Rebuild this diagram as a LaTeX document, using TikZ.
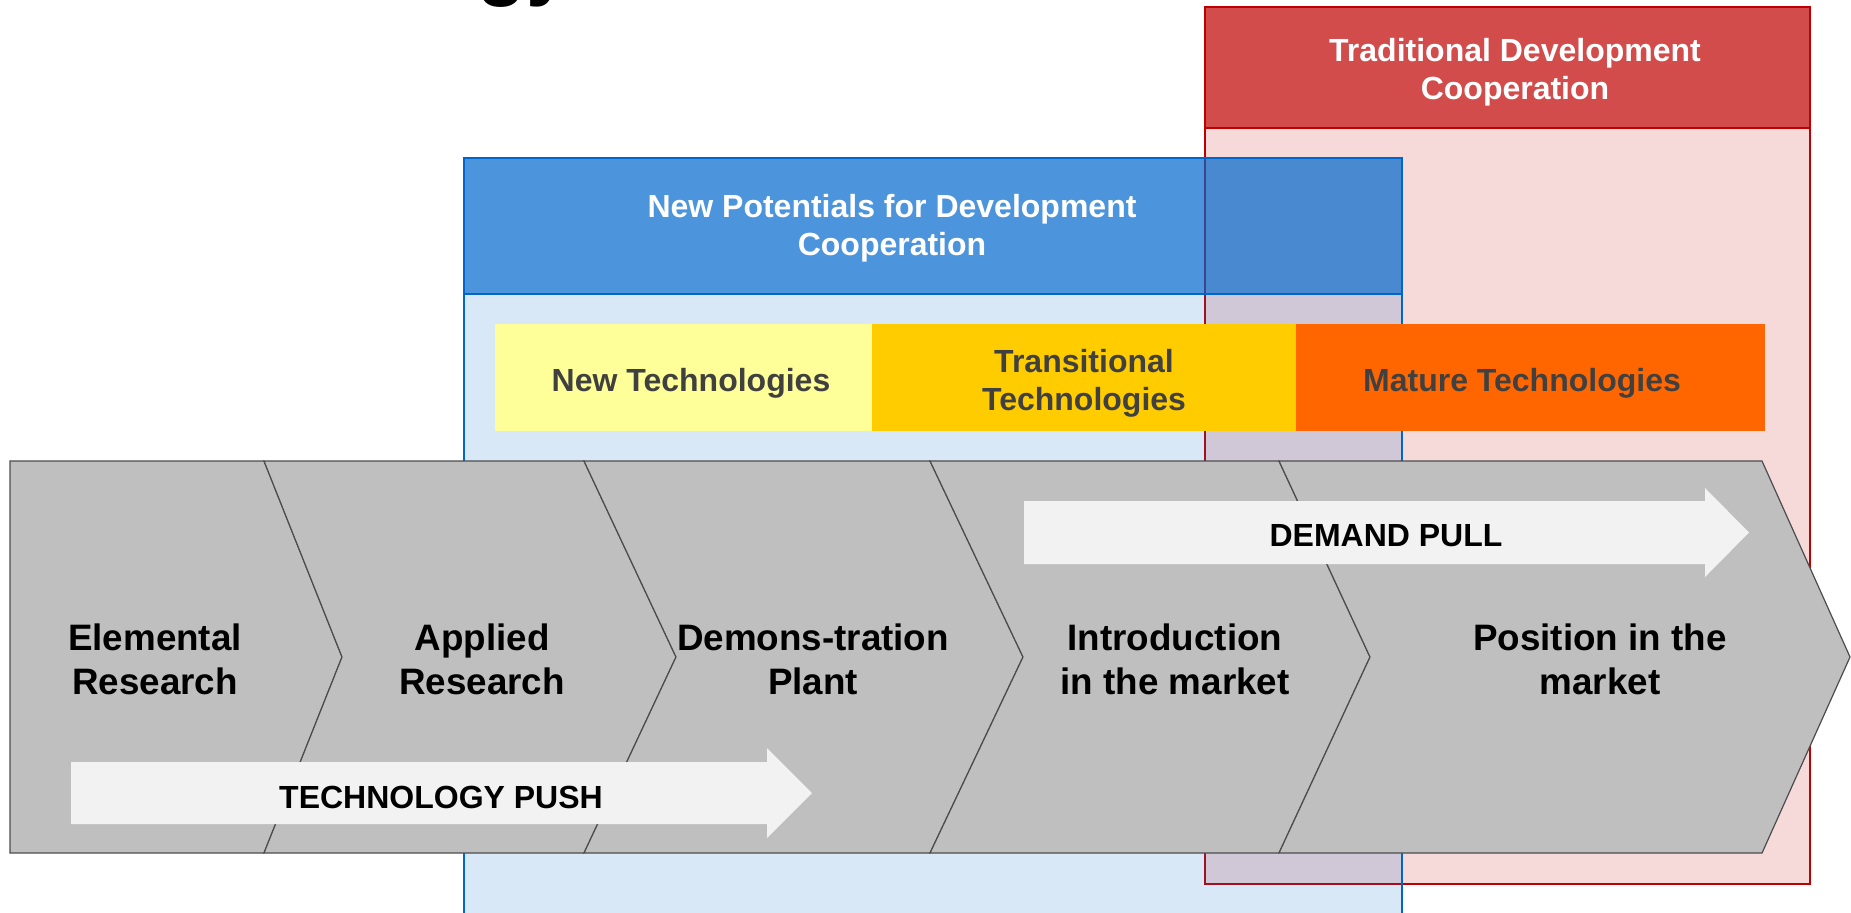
\documentclass[tikz,border=0pt]{standalone}
\usepackage{fontspec}
\setmainfont{Liberation Sans}
\usepackage{tikz}

\definecolor{coopblue}{HTML}{0066CC}
\definecolor{coopred}{HTML}{C00000}
\definecolor{stagegray}{HTML}{BFBFBF}
\definecolor{arrowgray}{HTML}{F2F2F2}
\definecolor{newyellow}{HTML}{FFFF99}
\definecolor{transgold}{HTML}{FFCC00}
\definecolor{matureorange}{HTML}{FF6600}
\definecolor{techtext}{HTML}{404040}

\tikzset{
  stagebox/.style={fill=stagegray, draw=black!70, line width=0.6pt, line join=miter},
  stagelabel/.style={align=center, font=\fontsize{18.4}{22}\selectfont\bfseries},
  headlabel/.style={align=center, text=white, font=\fontsize{16}{19}\selectfont\bfseries},
  techlabel/.style={align=center, text=techtext, font=\fontsize{16}{19}\selectfont\bfseries},
  pushlabel/.style={font=\fontsize{16}{19}\selectfont\bfseries}
}

\begin{document}
\begin{tikzpicture}[x=0.5pt, y=-0.5pt]
\useasboundingbox (0,0) rectangle (1851,912);

\node[anchor=base west, inner sep=0pt, font=\fontsize{40}{48}\selectfont\bfseries] (titlepart) at (477,-10) {gy};

\fill[coopred, fill opacity=0.15] (1205,128) rectangle (1810,884);
\fill[coopred, fill opacity=0.7] (1205,7) rectangle (1810,128);
\draw[coopred, line width=1pt] (1205,7) rectangle (1810,884) (1205,128) -- (1810,128);

\fill[coopblue, fill opacity=0.15] (464,294) rectangle (1402,925);
\fill[coopblue, fill opacity=0.7] (464,158) rectangle (1402,294);
\draw[coopblue, line width=0.75pt] (464,925) -- (464,158) -- (1402,158) -- (1402,925) (464,294) -- (1402,294);

\node[headlabel] (tradcoop) at (1515,72) {Traditional Development\\Cooperation};
\node[headlabel] (newcoop) at (892,228) {New Potentials for Development\\Cooperation};

\fill[newyellow] (495,324) rectangle (872,431);
\fill[transgold] (872,324) rectangle (1296,431);
\fill[matureorange] (1296,324) rectangle (1765,431);
\node[techlabel] (newtech) at (691,383) {New Technologies};
\node[techlabel] (transtech) at (1084,383) {Transitional\\Technologies};
\node[techlabel] (maturetech) at (1522,383) {Mature Technologies};

\draw[stagebox] (10,461) -- (264,461) -- (342,657) -- (264,853) -- (10,853) -- cycle;
\draw[stagebox] (264,461) -- (584,461) -- (676,657) -- (584,853) -- (264,853) -- (342,657) -- cycle;
\draw[stagebox] (584,461) -- (930,461) -- (1023,657) -- (930,853) -- (584,853) -- (676,657) -- cycle;
\draw[stagebox] (930,461) -- (1279,461) -- (1370,657) -- (1279,853) -- (930,853) -- (1023,657) -- cycle;
\draw[stagebox] (1279,461) -- (1762,461) -- (1850,657) -- (1762,853) -- (1279,853) -- (1370,657) -- cycle;

\fill[arrowgray] (71,762) -- (767,762) -- (767,748) -- (812,793) -- (767,838) -- (767,824) -- (71,824) -- cycle;
\fill[arrowgray] (1024,501) -- (1705,501) -- (1705,488) -- (1749,532.5) -- (1705,577) -- (1705,564) -- (1024,564) -- cycle;

\node[stagelabel] (elemental) at (155,659) {Elemental\\Research};
\node[stagelabel] (applied) at (482,659) {Applied\\Research};
\node[stagelabel] (demo) at (813,659) {Demons-tration\\Plant};
\node[stagelabel] (intro) at (1175,659) {Introduction\\in the market};
\node[stagelabel] (position) at (1600,659) {Position in the\\market};

\node[pushlabel] (techpush) at (441,797) {TECHNOLOGY PUSH};
\node[pushlabel] (demandpull) at (1386,536) {DEMAND PULL};
\end{tikzpicture}
\end{document}
